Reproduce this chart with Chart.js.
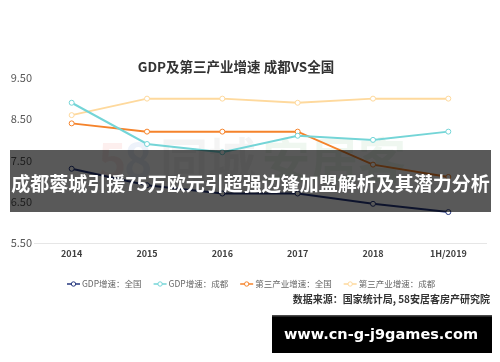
<!DOCTYPE html>
<html>
<head>
<meta charset="utf-8">
<script src="https://cdn.jsdelivr.net/npm/chart.js@4/dist/chart.umd.min.js"></script>
<style>
  body { margin: 0; background: #fff; }
  #wrap { width: 500px; height: 362px; }
</style>
</head>
<body>
<div id="wrap"><canvas id="myChart" width="500" height="362"></canvas></div>
<script>
const categories = ["2014", "2015", "2016", "2017", "2018", "1H/2019"];
const gdpNational = [7.3, 6.9, 6.7, 6.7, 6.45, 6.25];
const gdpChengdu = [8.9, 7.9, 7.7, 8.1, 8.0, 8.2];
const tertiaryNational = [8.4, 8.2, 8.2, 8.2, 7.4, 7.1];
const tertiaryChengdu = [8.6, 9.0, 9.0, 8.9, 9.0, 9.0];
const seriesNames = ["GDP增速：全国", "GDP增速：成都", "第三产业增速：全国", "第三产业增速：成都"];
const yTicks = [5.5, 6.5, 7.5, 8.5, 9.5];

const colors = ["#26387f", "#74d5d7", "#f5832b", "#fed99d"];
const CJK = '"Noto Sans CJK SC", "Noto Sans", sans-serif';
Chart.defaults.font.family = CJK;

function makeSet(i, data) {
  return {
    label: seriesNames[i],
    data: data,
    borderColor: colors[i],
    backgroundColor: "#ffffff",
    borderWidth: 2,
    pointRadius: 2.5,
    pointBorderWidth: 1,
    pointBackgroundColor: "#ffffff",
    pointBorderColor: colors[i],
    tension: 0,
  };
}

const overlay = {
  id: "overlay",
  beforeDatasetsDraw: (chart) => {
    // faint 58 watermark behind lines
    const { ctx } = chart;
    ctx.save();
    ctx.textBaseline = "top";
    ctx.font = "bold 48px " + CJK;
    ctx.fillStyle = "rgba(235,80,70,0.09)";
    ctx.fillText("5", 98, 136);
    ctx.fillStyle = "rgba(60,110,200,0.09)";
    ctx.fillText("8", 124, 136);
    ctx.fillStyle = "rgba(120,120,120,0.08)";
    ctx.fillText("同城", 160, 136);
    ctx.fillStyle = "rgba(80,170,90,0.09)";
    ctx.fillText("安居客", 262, 136);
    ctx.restore();
  },
  afterDraw: (chart) => {
    const { ctx } = chart;
    ctx.save();

    // title
    ctx.fillStyle = "#333333";
    ctx.font = "bold 13.5px " + CJK;
    ctx.textAlign = "center";
    ctx.textBaseline = "middle";
    ctx.fillText("GDP及第三产业增速 成都VS全国", 236, 67);

    // legend
    ctx.textAlign = "left";
    ctx.font = "8.5px " + CJK;
    let x = 67;
    const ly = 284;
    for (let i = 0; i < seriesNames.length; i++) {
      ctx.strokeStyle = colors[i];
      ctx.lineWidth = 1.5;
      ctx.beginPath();
      ctx.moveTo(x, ly);
      ctx.lineTo(x + 13, ly);
      ctx.stroke();
      ctx.beginPath();
      ctx.arc(x + 6.5, ly, 2.2, 0, Math.PI * 2);
      ctx.fillStyle = "#ffffff";
      ctx.fill();
      ctx.lineWidth = 1;
      ctx.stroke();
      ctx.fillStyle = "#666666";
      ctx.fillText(seriesNames[i], x + 15, ly);
      x += 15 + ctx.measureText(seriesNames[i]).width + 12;
    }

    // source
    ctx.textAlign = "right";
    ctx.fillStyle = "#333333";
    ctx.font = "bold 10px " + CJK;
    ctx.fillText("数据来源：国家统计局, 58安居客房产研究院", 490, 299);

    // headline banner
    ctx.fillStyle = "rgba(0,0,0,0.65)";
    ctx.fillRect(10, 150, 481, 62);
    ctx.fillStyle = "#ffffff";
    ctx.textAlign = "center";
    ctx.font = "bold 19px " + CJK;
    ctx.fillText("成都蓉城引援75万欧元引超强边锋加盟解析及其潜力分析", 250.5, 184, 480);

    // site box
    ctx.fillStyle = "#000000";
    ctx.fillRect(272, 315, 220, 38);
    ctx.fillStyle = "#4a4a4a";
    ctx.fillRect(272, 315, 220, 1.5);
    let size = 19;
    ctx.font = "bold " + size + "px 'DejaVu Sans', sans-serif";
    while (ctx.measureText("www.cn-g-j9games.com").width > 198 && size > 8) {
      size -= 0.5;
      ctx.font = "bold " + size + "px 'DejaVu Sans', sans-serif";
    }
    ctx.fillStyle = "#ffffff";
    ctx.fillText("www.cn-g-j9games.com", 381, 335);

    ctx.restore();
  },
};

new Chart(document.getElementById("myChart"), {
  type: "line",
  data: {
    labels: categories,
    datasets: [
      makeSet(0, gdpNational),
      makeSet(1, gdpChengdu),
      makeSet(2, tertiaryNational),
      makeSet(3, tertiaryChengdu),
    ],
  },
  options: {
    responsive: false,
    animation: false,
    layout: { padding: { top: 78, left: 0, right: 14, bottom: 99 } },
    plugins: {
      legend: { display: false },
      title: { display: false },
      tooltip: { enabled: false },
    },
    scales: {
      x: {
        offset: true,
        grid: { display: false, drawTicks: false },
        border: { display: true, color: "#e6e6e6", width: 1 },
        ticks: { color: "#404040", font: { size: 9, weight: "bold" }, padding: 5, maxRotation: 0 },
        afterFit: (s) => { s.height = 20; },
      },
      y: {
        min: 5.5,
        max: 9.5,
        afterBuildTicks: (s) => { s.ticks = yTicks.map((v) => ({ value: v })); },
        grid: { display: false, drawTicks: false },
        border: { display: false },
        ticks: {
          color: "#595959",
          font: { size: 11 },
          padding: 2,
          callback: (v) => Number(v).toFixed(2),
        },
        afterFit: (s) => { s.width = 34; },
      },
    },
  },
  plugins: [overlay],
});
</script>
</body>
</html>
